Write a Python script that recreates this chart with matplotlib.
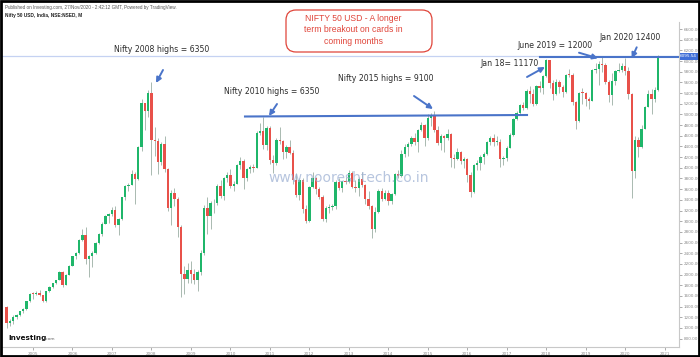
import numpy as np
import pandas as pd
import matplotlib
matplotlib.use("Agg")
import matplotlib.pyplot as plt
from matplotlib.patches import FancyBboxPatch, Rectangle

# ---------------- data (monthly OHLC, May 2004 .. Nov 2020) ----------------
months = pd.date_range("2004-05-01", "2020-11-01", freq="MS")

opens = [
    1399, 1100, 1125, 1215, 1235, 1312, 1352, 1500,
    1635, 1632, 1655, 1612, 1505, 1690, 1768, 1840, 1895, 2040, 1810, 1995,
    2170, 2345, 2400, 2648, 2735, 2290, 2345, 2400, 2600, 2760, 2950, 3090,
    3140, 3210, 2920, 3035, 3445, 3660, 3680, 3880, 3785, 4392, 5210, 5055,
    5400, 4522, 4500, 4100, 4450, 3980, 3255, 3525, 3425, 2900, 2020, 1910,
    2095, 2020, 1890, 2050, 2400, 3250, 3095, 3335, 3345, 3665, 3480, 3800,
    3870, 3660, 3700, 4048, 4125, 3804, 3973, 4014, 3997, 4655, 4682, 4432,
    4752, 4155, 4090, 4530, 4493, 4288, 4384, 4284, 3773, 3500, 3772, 3224,
    3010, 3640, 3814, 3611, 3462, 3040, 3254, 3263, 3288, 3741, 3618, 3744,
    3739, 3907, 3638, 3625, 3797, 3676, 3407, 3277, 2845, 3169, 3560, 3424,
    3534, 3371, 3507, 3877, 3853, 4252, 4394, 4443, 4562, 4487, 4703, 4807,
    4562, 4938, 4998, 4714, 4464, 4587, 4559, 4626, 4178, 4167, 4293, 4134,
    4165, 3866, 3539, 4050, 4096, 4207, 4261, 4481, 4557, 4487, 4488, 4166,
    4183, 4375, 4620, 4913, 5029, 5176, 5114, 5447, 5386, 5202, 5526, 5502,
    5719, 6017, 5585, 5383, 5604, 5519, 5427, 5745, 5733, 5231, 4877, 5407,
    5400, 5286, 5260, 5829, 5857, 5936, 5929, 5607, 5357, 5632, 5813, 5834,
    5914, 5813, 5384, 3947, 4520, 4397, 4735, 5137, 5384, 5289, 5452,
]
highs = [
    1420, 1160, 1240, 1260, 1325, 1375, 1510, 1650,
    1665, 1690, 1720, 1625, 1700, 1780, 1850, 1905, 2060, 2075, 2005, 2180,
    2355, 2420, 2660, 2860, 2890, 2370, 2440, 2610, 2775, 2980, 3120, 3150,
    3270, 3290, 3060, 3460, 3680, 3720, 3950, 3920, 4410, 5290, 5220, 5450,
    5613, 4760, 4560, 4480, 4600, 4000, 3580, 3620, 3450, 2930, 2160, 2220,
    2250, 2100, 2080, 2460, 3300, 3450, 3380, 3420, 3690, 3780, 3830, 3920,
    3980, 3760, 4070, 4200, 4160, 3995, 4060, 4070, 4690, 4840, 4946, 4790,
    4780, 4240, 4560, 4760, 4520, 4420, 4530, 4340, 3900, 3810, 3800, 3300,
    3660, 3920, 3830, 3650, 3490, 3280, 3320, 3330, 3770, 3810, 3760, 3820,
    3950, 3940, 3770, 3820, 3930, 3690, 3560, 3300, 3260, 3600, 3620, 3580,
    3580, 3530, 3900, 3950, 4330, 4450, 4480, 4600, 4660, 4720, 4850, 4830,
    5000, 5020, 5060, 4780, 4630, 4620, 4720, 4660, 4260, 4380, 4320, 4210,
    4180, 3920, 4080, 4150, 4240, 4300, 4510, 4590, 4640, 4590, 4540, 4230,
    4400, 4650, 4940, 5060, 5200, 5230, 5470, 5530, 5480, 5560, 5630, 5740,
    6030, 6010, 5650, 5660, 5640, 5560, 5760, 5860, 5780, 5250, 5420, 5490,
    5420, 5330, 5860, 5960, 6000, 6070, 5960, 5640, 5770, 5840, 5960, 5960,
    6058, 5880, 5400, 4600, 4580, 4800, 5160, 5450, 5480, 5520, 6110,
]
lows = [
    994, 1040, 1080, 1170, 1225, 1290, 1345, 1495,
    1545, 1620, 1590, 1480, 1495, 1680, 1755, 1830, 1890, 1765, 1800, 1990,
    2160, 2300, 2395, 2620, 2200, 1960, 2150, 2390, 2580, 2730, 2940, 2960,
    3100, 2900, 2740, 3030, 3400, 3570, 3670, 3330, 3770, 4320, 4700, 4950,
    3865, 4230, 3880, 4050, 3920, 3200, 2930, 3280, 2700, 1587, 1640, 1850,
    1850, 1820, 1700, 2000, 2370, 2760, 2860, 3150, 3300, 3440, 3400, 3740,
    3620, 3560, 3690, 3980, 3600, 3760, 3900, 3930, 3990, 4620, 4350, 4330,
    4080, 3900, 4050, 4440, 4160, 4180, 4260, 3700, 3460, 3400, 3160, 2960,
    2990, 3620, 3510, 3420, 3000, 2990, 3160, 3210, 3230, 3590, 3540, 3700,
    3720, 3620, 3540, 3480, 3650, 3330, 3230, 2680, 2800, 3150, 3380, 3400,
    3300, 3320, 3490, 3800, 3820, 4200, 4220, 4400, 4420, 4300, 4690, 4400,
    4520, 4780, 4680, 4420, 4340, 4300, 4520, 4020, 3990, 4140, 4080, 3990,
    3740, 3460, 3530, 3960, 3960, 4070, 4240, 4420, 4400, 4420, 4020, 4060,
    4120, 4370, 4600, 4900, 5000, 5080, 5100, 5220, 5160, 5180, 5420, 5390,
    5700, 5500, 5270, 5360, 5400, 5320, 5400, 5700, 5180, 4730, 4860, 5200,
    5160, 5100, 5250, 5780, 5560, 5800, 5570, 5230, 5180, 5560, 5800, 5790,
    5740, 5280, 3430, 3810, 4200, 4380, 4730, 5130, 5000, 5230, 5440,
]
closes = [
    1100, 1125, 1215, 1235, 1312, 1352, 1500, 1635,
    1632, 1655, 1612, 1505, 1690, 1768, 1840, 1895, 2040, 1810, 1995, 2170,
    2345, 2400, 2648, 2735, 2290, 2345, 2400, 2600, 2760, 2950, 3090, 3140,
    3210, 2920, 3035, 3445, 3660, 3680, 3880, 3785, 4392, 5210, 5055, 5400,
    4522, 4500, 4100, 4450, 3980, 3255, 3525, 3425, 2900, 2020, 1910, 2095,
    2020, 1890, 2050, 2400, 3250, 3095, 3335, 3345, 3665, 3480, 3800, 3870,
    3660, 3700, 4048, 4125, 3804, 3973, 4014, 3997, 4655, 4682, 4432, 4752,
    4155, 4090, 4530, 4493, 4288, 4384, 4284, 3773, 3500, 3772, 3224, 3010,
    3640, 3814, 3611, 3462, 3040, 3254, 3263, 3288, 3741, 3618, 3744, 3739,
    3907, 3638, 3625, 3797, 3676, 3407, 3277, 2845, 3169, 3560, 3424, 3534,
    3371, 3507, 3877, 3853, 4252, 4394, 4443, 4562, 4487, 4703, 4807, 4562,
    4938, 4998, 4714, 4464, 4587, 4559, 4626, 4178, 4167, 4293, 4134, 4165,
    3866, 3539, 4050, 4096, 4207, 4261, 4481, 4557, 4487, 4488, 4166, 4183,
    4375, 4620, 4913, 5029, 5176, 5114, 5447, 5386, 5202, 5526, 5502, 5719,
    6017, 5585, 5383, 5604, 5519, 5427, 5745, 5733, 5231, 4877, 5407, 5400,
    5286, 5260, 5829, 5857, 5936, 5929, 5607, 5357, 5632, 5813, 5834, 5914,
    5813, 5384, 3947, 4520, 4397, 4735, 5137, 5384, 5289, 5452, 6095.54,
]

year_labels = [str(y) for y in range(2005, 2022)]
y_ticks = list(range(800, 6601, 200))
last_price = 6095.54

title_line1 = "Published on Investing.com, 27/Nov/2020 - 2:42:12 GMT, Powered by TradingView."
title_line2 = "Nifty 50 USD, India, NSE:NSED, M"
box_text = "NIFTY 50 USD - A longer\nterm breakout on cards in\ncoming months"
watermark = "www.nooreshtech.co.in"

# ---------------- figure ----------------
W, H = 700, 357
fig = plt.figure(figsize=(W / 100, H / 100), dpi=100)
fig.patch.set_facecolor("white")

px_left, px_right, px_top, px_bot = 2, 679, 22, 347
ax = fig.add_axes([px_left / W, (H - px_bot) / H, (px_right - px_left) / W, (px_bot - px_top) / H])

x0_px, px_per_month = 33.0, 3.29
v_ref, y_ref, v_per_px = 6600.0, 29.0, 18.73


def px2x(px):
    return (px - x0_px) / px_per_month


def py2v(py):
    return v_ref - (py - y_ref) * v_per_px


ax.set_xlim(px2x(px_left), px2x(px_right))
ax.set_ylim(py2v(px_bot), py2v(px_top))

mi = np.array([(d.year - 2005) * 12 + d.month - 1 for d in months], dtype=float)
o = np.array(opens, float)
h = np.array(highs, float)
l = np.array(lows, float)
c = np.array(closes, float)

green, red = "#1fb66a", "#e8514a"
up = c >= o
wick_col = "#a9b9b0"
ax.vlines(mi, l, h, color=wick_col, lw=0.7, zorder=2)
bottoms = np.minimum(o, c)
heights = np.maximum(np.abs(c - o), 15)
ax.bar(mi, heights, bottom=bottoms, width=0.72,
       color=np.where(up, green, red), edgecolor="none", zorder=3)

ax.axhline(last_price, color="#c5d2f2", lw=0.9, zorder=1)

for s in ["top", "left"]:
    ax.spines[s].set_visible(False)
for s in ["right", "bottom"]:
    ax.spines[s].set_color("#c8c8c8")
    ax.spines[s].set_linewidth(0.8)
ax.yaxis.tick_right()
ax.set_yticks(y_ticks)
ax.set_yticklabels([f"{v:.2f}" for v in y_ticks])
ax.set_xticks([12 * i for i in range(len(year_labels))])
ax.set_xticklabels(year_labels)
ax.tick_params(axis="both", labelsize=3, colors="#8a8a8a", length=2, width=0.5, pad=1.5)
ax.tick_params(axis="y", pad=1.2)

# ---------------- annotations (blue) ----------------
blue = "#4a74c9"
txt_kw = dict(fontsize=5.6, color="#2b2b2b", family="DejaVu Sans", ha="center", va="center", zorder=6)

ax.text(px2x(161.5), py2v(50), "Nifty 2008 highs = 6350", **txt_kw)
ax.text(px2x(272), py2v(92), "Nifty 2010 highs = 6350", **txt_kw)
ax.text(px2x(386), py2v(78), "Nifty 2015 highs = 9100", **txt_kw)
ax.text(px2x(510), py2v(63), "Jan 18= 11170", **txt_kw)
ax.text(px2x(554.5), py2v(46), "June 2019 = 12000", **txt_kw)
ax.text(px2x(630), py2v(38), "Jan 2020 12400", **txt_kw)

arrow_kw = dict(arrowstyle="-|>,head_length=0.5,head_width=0.25", color=blue, lw=1.4,
                mutation_scale=6, shrinkA=0, shrinkB=0)
arrows = [((163, 70), (156, 83)), ((277, 104), (269, 116)), ((414, 96), (433, 109)),
          ((527, 77), (545, 67)), ((579, 52.7), (598, 58.3)), ((636.7, 47.3), (631.7, 58.3))]
for (tx, ty), (hx, hy) in arrows:
    ax.annotate("", xy=(px2x(hx), py2v(hy)), xytext=(px2x(tx), py2v(ty)),
                arrowprops=arrow_kw, zorder=7, annotation_clip=False)

ax.plot([px2x(245), px2x(527)], [py2v(116.5), py2v(115)], color=blue, lw=1.5, zorder=5)
ax.plot([px2x(540), px2x(679)], [py2v(57), py2v(57)], color=blue, lw=1.5, zorder=5)

# ---------------- overlay (pixel coordinates) ----------------
ov = fig.add_axes([0, 0, 1, 1], zorder=10)
ov.set_xlim(0, W)
ov.set_ylim(H, 0)
ov.axis("off")
ov.patch.set_alpha(0)

ov.add_patch(Rectangle((1, 1), W - 2, H - 2, fill=False, edgecolor="black", lw=2))

ov.text(5, 7, title_line1, fontsize=3.3, color="#555555", family="Liberation Sans", va="center")
ov.text(5, 16, title_line2, fontsize=3.4, color="#222222", family="Liberation Sans",
        weight="bold", va="center")

ov.add_patch(FancyBboxPatch((286, 10), 146, 42, boxstyle="round,pad=0,rounding_size=10",
                            facecolor="white", edgecolor="#e0453a", lw=0.9))
ov.text(353, 30, box_text, fontsize=6.2, color="#e0453a", family="Liberation Sans",
        ha="center", va="center", linespacing=1.4, multialignment="center")

ov.text(349, 178, watermark, fontsize=10, color="#9fb2d4", alpha=0.75,
        family="DejaVu Sans", ha="center", va="center")

ov.add_patch(Rectangle((679.5, 52.5), 18, 7, facecolor="#3f6fd8", edgecolor="none"))
ov.text(688.5, 56, f"{last_price:.2f}", fontsize=3, color="white", ha="center", va="center")

# Investing.com logo
ov.text(8, 338, "Investing", fontsize=5.2, color="#111111", weight="bold",
        family="DejaVu Sans", va="center")
ov.text(45, 339, ".com", fontsize=3.2, color="#666666", family="DejaVu Sans", va="center")

fig.savefig("out.png", dpi=100, facecolor="white")
